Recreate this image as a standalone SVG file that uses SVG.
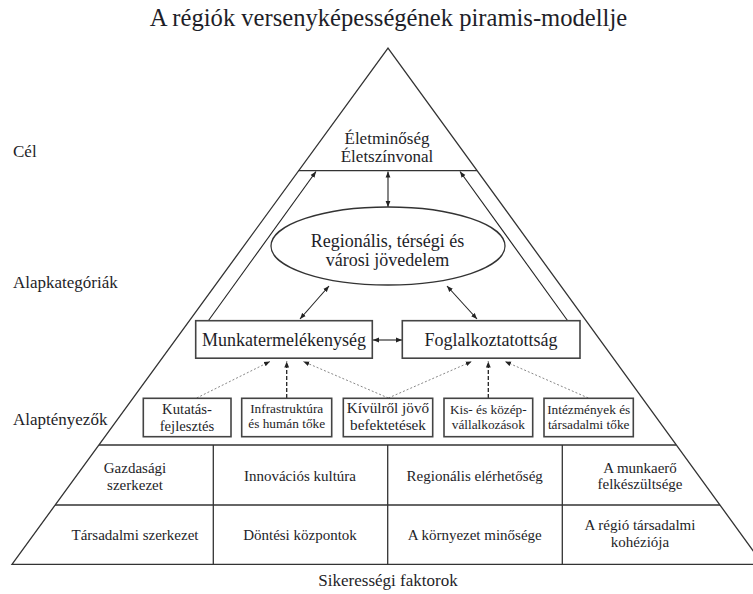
<svg xmlns="http://www.w3.org/2000/svg" width="753" height="594" viewBox="0 0 753 594">
<style>
text{font-family:"Liberation Serif","Times New Roman",serif;fill:#1e1e28}
.t{font-size:18px;text-anchor:middle}
.t2{font-size:17px;text-anchor:middle}
.s{font-size:13.3px;text-anchor:middle}
.b{font-size:15px;text-anchor:middle}
.lab{font-size:17px}
.ln{stroke:#333;stroke-width:1.3;fill:none}
.box{fill:#fff;stroke:#444;stroke-width:1.6}
.arr{stroke:#222;stroke-width:1.1;fill:none;marker-start:url(#ah);marker-end:url(#ah)}
.ar1{stroke:#222;stroke-width:1.1;fill:none;marker-end:url(#ah)}
.dl{stroke:#888;stroke-width:1;stroke-dasharray:2 2;fill:none;marker-end:url(#ah)}
.dv{stroke:#222;stroke-width:1.3;stroke-dasharray:4 2;fill:none;marker-end:url(#ah)}
</style>
<defs>
<marker id="ah" viewBox="0 0 10 10" refX="10" refY="5" markerWidth="6" markerHeight="6" orient="auto-start-reverse" markerUnits="userSpaceOnUse">
<path d="M0,1 L10,5 L0,9 z" fill="#222"/>
</marker>
</defs>
<rect width="753" height="594" fill="#fff"/>
<text x="388.5" y="26" style="font-size:24.6px;text-anchor:middle">A régiók versenyképességének piramis-modellje</text>

<g id="pyramid">
<path class="ln" d="M12,564.3 L388,48 L763,564.3 Z"/>
<line class="ln" x1="298.5" y1="170.7" x2="477" y2="170.7"/>
<line class="ln" x1="99" y1="445" x2="676" y2="445"/>
<line class="ln" x1="55" y1="505" x2="720" y2="505"/>
<line class="ln" x1="213.3" y1="445" x2="213.3" y2="564.3"/>
<line class="ln" x1="387.7" y1="445" x2="387.7" y2="564.3"/>
<line class="ln" x1="562.3" y1="445" x2="562.3" y2="564.3"/>
</g>

<g id="labels">
<text class="lab" x="13" y="157">Cél</text>
<text class="lab" x="13" y="288">Alapkategóriák</text>
<text class="lab" x="13" y="425">Alaptényezők</text>
<text x="388" y="586" style="font-size:17px;text-anchor:middle">Sikerességi faktorok</text>
</g>

<g id="cel">
<text class="t2" x="387" y="143.5">Életminőség</text>
<text class="t2" x="387" y="162">Életszínvonal</text>
</g>

<g id="connectors">
<line class="ar1" x1="208.5" y1="320.5" x2="316" y2="171.5"/>
<line class="ar1" x1="567.5" y1="320.5" x2="460" y2="171.5"/>
<line class="arr" x1="388" y1="171.5" x2="388" y2="207"/>
<line class="arr" x1="300" y1="319" x2="329" y2="286"/>
<line class="arr" x1="477" y1="319" x2="447" y2="286"/>
<line class="arr" x1="373" y1="340" x2="402" y2="340"/>
<line class="dl" x1="196.7" y1="398" x2="270" y2="361.5"/>
<line class="dv" x1="286.7" y1="398" x2="286.7" y2="361.5"/>
<line class="dl" x1="388.3" y1="398" x2="303.3" y2="361.5"/>
<line class="dl" x1="388.3" y1="398" x2="471.7" y2="361.5"/>
<line class="dv" x1="488.3" y1="398" x2="488.3" y2="361.5"/>
<line class="dl" x1="588.3" y1="398" x2="505" y2="361.5"/>
</g>

<g id="jovedelem">
<ellipse cx="388" cy="246" rx="117" ry="39" fill="#fff" stroke="#333" stroke-width="1.3"/>
<text class="t" x="387.5" y="246.5">Regionális, térségi és</text>
<text class="t" x="387.5" y="265.5">városi jövedelem</text>
</g>

<g id="munkatermelekenyseg">
<rect class="box" x="195.7" y="320.7" width="176.6" height="37.5"/>
<text class="t" x="284" y="346">Munkatermelékenység</text>
</g>
<g id="foglalkoztatottsag">
<rect class="box" x="402.3" y="320.7" width="177.7" height="37.5"/>
<text class="t" x="491" y="346">Foglalkoztatottság</text>
</g>

<g id="kutatas">
<rect class="box" x="143.3" y="398.3" width="87.7" height="38.4"/>
<text x="187" y="414" style="font-size:14.7px;text-anchor:middle">Kutatás-</text>
<text x="187" y="430.5" style="font-size:14.7px;text-anchor:middle">fejlesztés</text>
</g>
<g id="infrastruktura">
<rect class="box" x="241.7" y="398.3" width="90" height="38.4"/>
<text class="s" x="286.7" y="412.5">Infrastruktúra</text>
<text class="s" x="286.7" y="428">és humán tőke</text>
</g>
<g id="kivulrol">
<rect class="box" x="343.3" y="398.3" width="89.4" height="38.4"/>
<text x="388" y="412.7" style="font-size:15.2px;text-anchor:middle">Kívülről jövő</text>
<text x="388" y="430" style="font-size:15.2px;text-anchor:middle">befektetések</text>
</g>
<g id="kkv">
<rect class="box" x="444" y="398.3" width="88.7" height="38.4"/>
<text class="s" x="488.3" y="413.5">Kis- és közép-</text>
<text class="s" x="488.3" y="428.5">vállalkozások</text>
</g>
<g id="intezmenyek">
<rect class="box" x="544" y="398.3" width="89.3" height="38.4"/>
<text class="s" x="588.7" y="414">Intézmények és</text>
<text class="s" x="588.7" y="428.5">társadalmi tőke</text>
</g>

<g id="gazdasagi">
<text class="b" x="135" y="473">Gazdasági</text>
<text class="b" x="135" y="490">szerkezet</text>
</g>
<g id="innovacios">
<text class="b" x="300" y="481">Innovációs kultúra</text>
</g>
<g id="elerhetoseg">
<text class="b" x="474.7" y="481">Regionális elérhetőség</text>
</g>
<g id="munkaero">
<text class="b" x="640" y="473">A munkaerő</text>
<text class="b" x="640" y="489">felkészültsége</text>
</g>
<g id="tarsadalmi">
<text class="b" x="135" y="540">Társadalmi szerkezet</text>
</g>
<g id="dontesi">
<text class="b" x="300" y="540">Döntési központok</text>
</g>
<g id="kornyezet">
<text class="b" x="474.7" y="540">A környezet minősége</text>
</g>
<g id="kohezio">
<text class="b" x="640" y="530">A régió társadalmi</text>
<text class="b" x="640" y="547">kohéziója</text>
</g>
</svg>
